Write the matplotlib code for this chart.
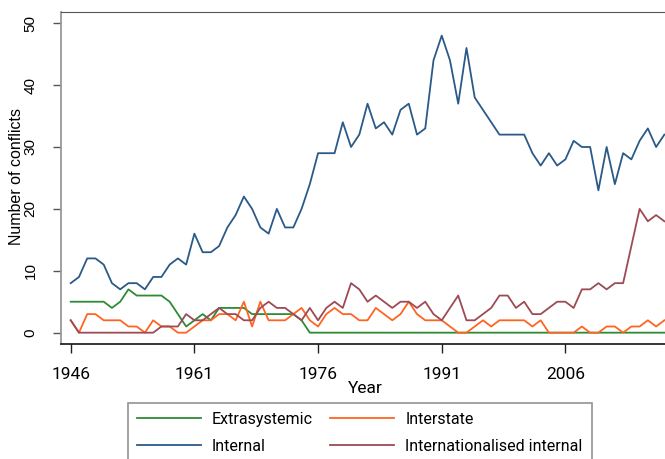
import numpy as np
import matplotlib.pyplot as plt

years = list(range(1946, 2019))

extrasystemic = [5, 5, 5, 5, 5, 4, 5, 7, 6, 6,
                 6, 6, 5, 3, 1, 2, 3, 2, 4, 4,
                 4, 4, 3, 3, 3, 3, 3, 3, 2, 0,
                 0, 0, 0, 0, 0, 0, 0, 0, 0, 0,
                 0, 0, 0, 0, 0, 0, 0, 0, 0, 0,
                 0, 0, 0, 0, 0, 0, 0, 0, 0, 0,
                 0, 0, 0, 0, 0, 0, 0, 0, 0, 0,
                 0, 0, 0]
internal = [8, 9, 12, 12, 11, 8, 7, 8, 8, 7,
            9, 9, 11, 12, 11, 16, 13, 13, 14, 17,
            19, 22, 20, 17, 16, 20, 17, 17, 20, 24,
            29, 29, 29, 34, 30, 32, 37, 33, 34, 32,
            36, 37, 32, 33, 44, 48, 44, 37, 46, 38,
            36, 34, 32, 32, 32, 32, 29, 27, 29, 27,
            28, 31, 30, 30, 23, 30, 24, 29, 28, 31,
            33, 30, 32]
interstate = [2, 0, 3, 3, 2, 2, 2, 1, 1, 0,
              2, 1, 1, 0, 0, 1, 2, 2, 3, 3,
              2, 5, 1, 5, 2, 2, 2, 3, 4, 2,
              1, 3, 4, 3, 3, 2, 2, 4, 3, 2,
              3, 5, 3, 2, 2, 2, 1, 0, 0, 1,
              2, 1, 2, 2, 2, 2, 1, 2, 0, 0,
              0, 0, 1, 0, 0, 1, 1, 0, 1, 1,
              2, 1, 2]
internationalised = [2, 0, 0, 0, 0, 0, 0, 0, 0, 0,
                     0, 1, 1, 1, 3, 2, 2, 3, 4, 3,
                     3, 2, 2, 4, 5, 4, 4, 3, 2, 4,
                     2, 4, 5, 4, 8, 7, 5, 6, 5, 4,
                     5, 5, 4, 5, 3, 2, 4, 6, 2, 2,
                     3, 4, 6, 6, 4, 5, 3, 3, 4, 5,
                     5, 4, 7, 7, 8, 7, 8, 8, 14, 20,
                     18, 19, 18]

xticks = [1946, 1961, 1976, 1991, 2006]
yticks = [0, 10, 20, 30, 40, 50]

plt.rcParams['font.family'] = ['Roboto', 'DejaVu Sans']

fig = plt.figure(figsize=(6.65, 4.59), dpi=100)
ax = fig.add_axes([61 / 665, 115 / 459, 604 / 665, 332.3 / 459])

l1, = ax.plot(years, extrasystemic, color='#2f8a34', lw=1.3, label='Extrasystemic')
l2, = ax.plot(years, internal, color='#2b5a88', lw=1.3, label='Internal')
l3, = ax.plot(years, interstate, color='#ff6422', lw=1.3, label='Interstate')
l4, = ax.plot(years, internationalised, color='#9c4b55', lw=1.3, label='Internationalised internal')

ax.set_xlim(1944.82, 2018.08)
ax.set_ylim(-1.83, 51.86)
ax.set_xticks(xticks)
ax.set_yticks(yticks)

ax.spines['right'].set_visible(False)
ax.spines['top'].set_color('#555555')
ax.spines['left'].set_color('#999999')
ax.spines['left'].set_linewidth(1.3)
ax.spines['bottom'].set_color('black')
ax.spines['bottom'].set_linewidth(1.1)

ax.tick_params(axis='x', length=6.5, width=1, pad=10, labelsize=12.5, color='#222222')
ax.tick_params(axis='y', length=5.8, width=1, pad=11, labelsize=11, labelrotation=90, color='#555555')
for lab in ax.get_yticklabels():
    lab.set_family('Liberation Sans')
    lab.set_va('center')

ax.set_ylabel('Number of conflicts', fontsize=11.5, family='Liberation Sans')
ax.yaxis.set_label_coords(-0.0745, 0.503)
ax.yaxis.label.set_va('center')
ax.set_xlabel('Year', fontsize=12.5)
ax.xaxis.set_label_coords(0.504, -0.135)
ax.xaxis.label.set_va('center')

leg = fig.legend(handles=[l1, l2, l3, l4], loc='upper left',
                 bbox_to_anchor=(128 / 665, 1 - 403 / 459), ncol=2,
                 frameon=True, fancybox=False, edgecolor='#777777',
                 fontsize=11.5, handlelength=4.0, handletextpad=0.7,
                 columnspacing=1.1, borderpad=0.55, labelspacing=0.75,
                 borderaxespad=0)
leg.get_frame().set_linewidth(1.2)

fig.savefig('out.png', dpi=100)
